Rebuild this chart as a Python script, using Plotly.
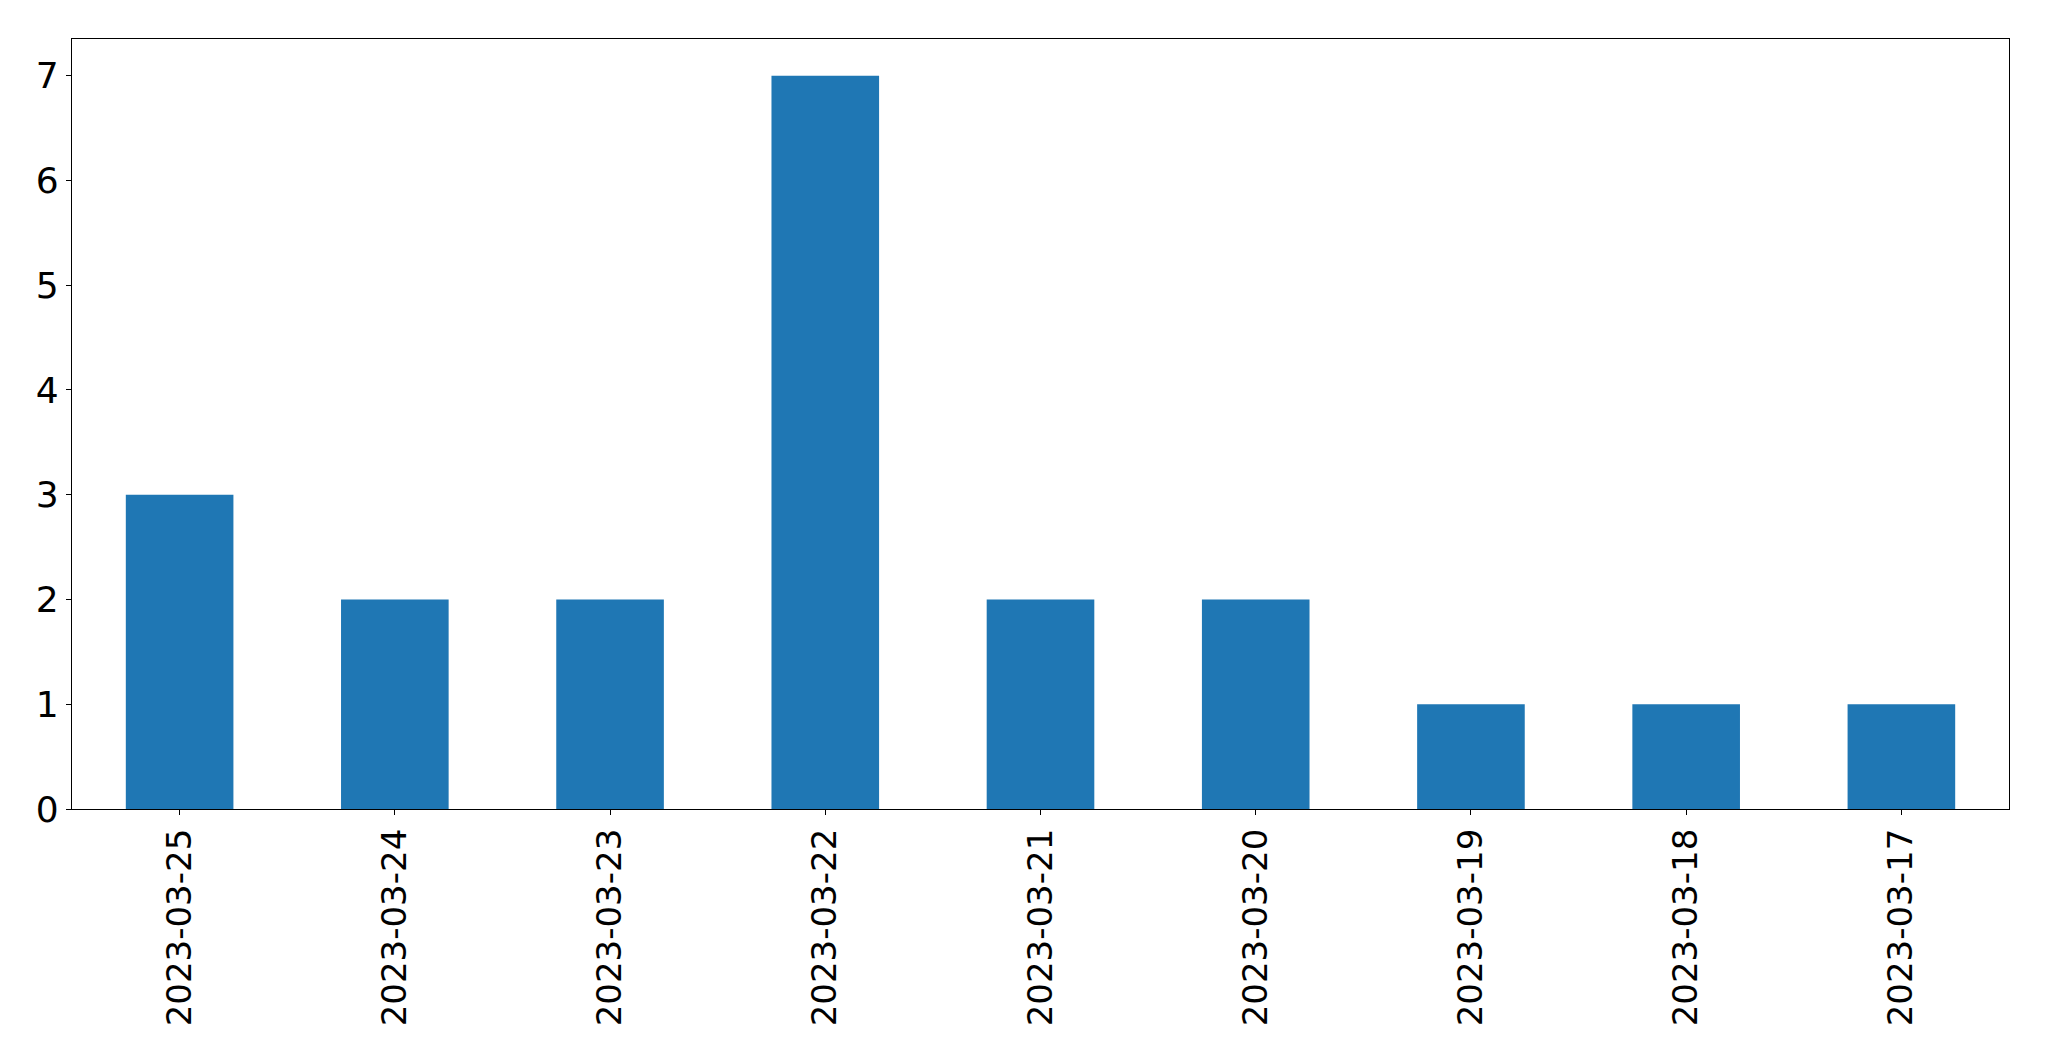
import plotly.graph_objects as go

dates = ["2023-03-25", "2023-03-24", "2023-03-23", "2023-03-22", "2023-03-21",
         "2023-03-20", "2023-03-19", "2023-03-18", "2023-03-17"]
counts = [3, 2, 2, 7, 2, 2, 1, 1, 1]
y_ticks = [0, 1, 2, 3, 4, 5, 6, 7]

fig = go.Figure()
fig.add_trace(go.Bar(x=dates, y=counts, width=0.5, marker=dict(color="#1f77b4", line=dict(width=0))))

xfont = dict(family="DejaVu Sans", size=34, color="black")
yfont = dict(family="DejaVu Sans", size=36, color="black")
fig.update_layout(
    width=2041, height=1053,
    margin=dict(l=64, r=40, t=31, b=252, autoexpand=False),
    paper_bgcolor="white", plot_bgcolor="white",
    showlegend=False,
    font=xfont,
)
fig.update_xaxes(
    type="category", range=[-0.5, 8.5],
    showline=True, linecolor="black", linewidth=1.3, mirror=True,
    ticks="outside", ticklen=5, tickwidth=1.3, tickcolor="black",
    tickangle=-90, tickfont=xfont, showgrid=False, zeroline=False,
    automargin=False,
)
fig.update_yaxes(
    range=[0, 7.35], tickvals=y_ticks,
    showline=True, linecolor="black", linewidth=1.3, mirror=True,
    ticks="outside", ticklen=5, tickwidth=1.3, tickcolor="black",
    tickfont=yfont, showgrid=False, zeroline=False,
    automargin=False,
)
fig.write_html("out.html")
